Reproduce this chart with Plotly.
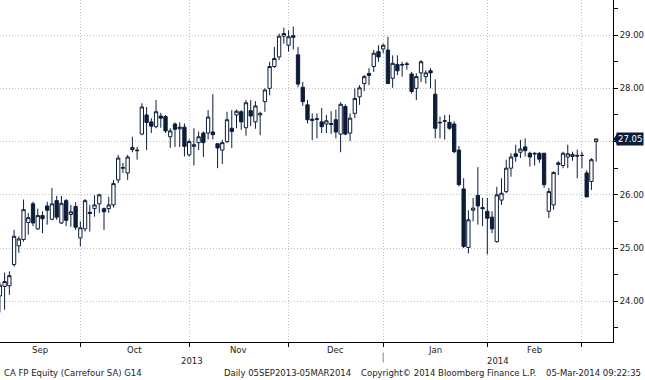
import pandas as pd
import plotly.graph_objects as go

# ---------------- data ----------------
holidays = ["2013-12-25", "2013-12-26", "2014-01-01"]
all_days = pd.bdate_range("2013-09-05", "2014-03-05")
dates = [d.strftime("%Y-%m-%d") for d in all_days if d.strftime("%Y-%m-%d") not in holidays]

opens = [24.10, 24.28, 24.29, 24.69, 25.04, 25.16, 25.48, 25.83, 25.36, 25.61,
         25.79, 25.54, 25.89, 25.47, 25.89, 25.63, 25.78, 25.19, 25.36, 25.67,
         25.74, 25.83, 25.74, 25.74, 25.81, 26.28, 26.50, 26.41, 26.85, 26.84,
         27.14, 27.50, 27.37, 27.28, 27.48, 27.47, 27.09, 27.33, 27.24, 27.27,
         26.75, 26.91, 26.98, 27.16, 27.16, 27.18, 26.96, 26.84, 27.00, 27.25,
         27.50, 27.56, 27.26, 27.58, 27.37, 27.50, 27.75, 28.00, 28.41, 28.59,
         28.98, 28.81, 28.99, 28.63, 28.02, 27.69, 27.42, 27.43, 27.37, 27.33,
         27.34, 27.41, 27.14, 27.66, 27.16, 27.53, 27.84, 28.09, 28.28, 28.41,
         28.69, 28.74, 28.72, 28.19, 28.45, 28.45, 28.46, 28.27, 28.00, 28.29,
         28.22, 28.33, 27.89, 27.35, 27.38, 27.36, 27.33, 26.84, 26.11, 25.01,
         25.71, 25.99, 25.76, 25.69, 25.58, 25.12, 25.90, 26.06, 26.50, 26.77,
         26.80, 26.90, 26.78, 26.78, 26.78, 26.78, 25.69, 25.81, 26.57, 26.55,
         26.71, 26.72, 26.74, 26.74, 26.41, 26.25, 27.00]
highs = [24.35, 24.54, 24.56, 25.34, 25.22, 25.91, 25.66, 25.87, 25.74, 25.69,
         25.87, 26.13, 25.98, 25.98, 25.92, 25.81, 25.86, 25.50, 25.92, 25.81,
         25.99, 26.02, 25.76, 25.96, 26.28, 26.75, 26.60, 26.75, 27.09, 26.90,
         27.72, 27.65, 27.44, 27.78, 27.54, 27.50, 27.25, 27.36, 27.36, 27.34,
         27.04, 27.25, 27.19, 27.19, 27.59, 27.89, 26.97, 27.03, 27.56, 27.59,
         27.60, 27.59, 27.78, 27.78, 27.76, 27.56, 28.00, 28.50, 28.78, 29.03,
         29.14, 29.09, 29.16, 28.78, 28.12, 27.78, 27.53, 27.53, 27.63, 27.50,
         27.57, 27.60, 27.74, 27.70, 27.53, 28.00, 28.06, 28.25, 28.38, 28.72,
         28.81, 28.84, 28.97, 28.62, 28.62, 28.50, 28.50, 28.31, 28.28, 28.53,
         28.34, 28.38, 28.17, 27.47, 27.50, 27.50, 27.38, 26.92, 26.31, 25.71,
         25.94, 26.52, 25.94, 25.94, 25.69, 26.15, 26.31, 26.66, 26.78, 26.94,
         27.03, 27.06, 26.81, 26.80, 26.80, 26.79, 26.13, 26.44, 26.63, 26.81,
         26.94, 26.81, 26.85, 26.81, 26.46, 26.69, 27.05]
lows = [23.79, 23.84, 24.12, 24.65, 24.91, 25.12, 25.25, 25.41, 25.34, 25.28,
        25.44, 25.52, 25.53, 25.45, 25.41, 25.40, 25.34, 25.03, 25.31, 25.31,
        25.59, 25.66, 25.34, 25.66, 25.76, 26.22, 26.41, 26.28, 26.80, 26.66,
        27.12, 26.84, 27.16, 27.25, 27.26, 27.16, 26.88, 26.90, 26.90, 26.72,
        26.72, 26.55, 26.84, 26.71, 27.04, 27.04, 26.50, 26.58, 26.97, 26.88,
        27.25, 27.22, 27.11, 27.29, 27.24, 27.12, 27.56, 27.87, 28.38, 28.53,
        28.84, 28.69, 28.73, 28.02, 27.67, 27.34, 27.03, 27.06, 27.16, 27.16,
        27.14, 27.06, 26.80, 27.12, 27.01, 27.44, 27.69, 27.95, 28.06, 28.31,
        28.50, 28.66, 28.08, 28.01, 28.25, 28.22, 28.35, 27.90, 27.78, 28.12,
        28.09, 28.00, 27.06, 27.06, 27.04, 27.22, 26.78, 26.16, 25.00, 24.90,
        25.50, 25.44, 25.41, 24.88, 25.28, 25.10, 25.81, 26.03, 26.34, 26.62,
        26.69, 26.72, 26.53, 26.55, 26.60, 26.13, 25.56, 25.72, 26.37, 26.50,
        26.50, 26.64, 26.31, 26.50, 25.96, 26.09, 26.62]
closes = [24.30, 24.37, 24.48, 25.22, 25.17, 25.72, 25.57, 25.47, 25.61, 25.55,
          25.71, 25.83, 25.58, 25.84, 25.52, 25.68, 25.39, 25.38, 25.89, 25.65,
          25.81, 26.00, 25.68, 25.81, 26.21, 26.69, 26.51, 26.71, 26.89, 26.83,
          27.65, 27.36, 27.29, 27.56, 27.44, 27.20, 27.20, 27.23, 27.27, 26.91,
          27.00, 26.94, 27.09, 26.98, 27.46, 27.13, 26.88, 26.98, 27.41, 27.19,
          27.57, 27.37, 27.73, 27.48, 27.67, 27.53, 27.97, 28.41, 28.56, 28.98,
          29.03, 28.97, 28.96, 28.08, 27.75, 27.41, 27.40, 27.42, 27.28, 27.39,
          27.32, 27.18, 27.70, 27.14, 27.44, 27.81, 28.01, 28.22, 28.24, 28.66,
          28.59, 28.81, 28.09, 28.47, 28.33, 28.44, 28.45, 27.94, 28.22, 28.50,
          28.29, 28.29, 27.25, 27.36, 27.39, 27.25, 26.81, 26.19, 25.03, 25.53,
          25.75, 25.79, 25.74, 25.56, 25.36, 26.00, 26.03, 26.50, 26.71, 26.72,
          26.86, 26.83, 26.71, 26.77, 26.67, 26.19, 26.06, 26.42, 26.60, 26.78,
          26.77, 26.76, 26.73, 26.74, 25.96, 26.66, 27.05]

y_ticks = [24, 25, 26, 27, 28, 29]
footer_left = "CA FP Equity (Carrefour SA) G14"
footer_mid = "Daily 05SEP2013-05MAR2014"
footer_copy = "Copyright\u00a9 2014 Bloomberg Finance L.P."
footer_right = "05-Mar-2014 09:22:35"

# ---------------- derived positions ----------------
N = len(dates)
x_range = [0.023, 129.56]
month_ends = [i for i in range(N - 1) if dates[i][:7] != dates[i + 1][:7]]
seg_starts = [0] + month_ends[:-1]
month_centers = [(a + b) / 2 for a, b in zip(seg_starts, month_ends)]
month_names = [pd.Timestamp(dates[b]).strftime("%b") for b in month_ends]
year_ends = [i for i in range(N - 1) if dates[i][:4] != dates[i + 1][:4]]
year_centers = [(0 + year_ends[0]) / 2, (year_ends[0] + x_range[1]) / 2]
year_names = [dates[0][:4], dates[-1][:4]]

last = closes[-1]
# tick label hidden where the last-price box covers it
y_ticktext = ["" if abs(v - last) < 0.15 else f"{v:.2f}" for v in y_ticks]

NAVY = "#0c1d3a"
FONT = "DejaVu Sans"
TXT = "#222222"
GRID = "#c0c0c0"

fig = go.Figure()
fig.add_trace(go.Candlestick(
    x=dates, open=opens, high=highs, low=lows, close=closes,
    increasing=dict(fillcolor="white", line=dict(color=NAVY, width=1)),
    decreasing=dict(fillcolor=NAVY, line=dict(color=NAVY, width=1)),
    whiskerwidth=0, showlegend=False, hoverinfo="skip",
))

annotations = []
for c, n in zip(month_centers, month_names):
    annotations.append(dict(x=c, y=0, xref="x", yref="paper", text=n, showarrow=False,
                            yanchor="middle", yshift=-8, font=dict(family=FONT, size=8.5, color=TXT)))
for c, n in zip(year_centers, year_names):
    annotations.append(dict(x=c, y=0, xref="x", yref="paper", text=n, showarrow=False,
                            yanchor="middle", yshift=-19, font=dict(family=FONT, size=8.5, color=TXT)))
for txt, xs, anc in [(footer_left, 2, "left"), (footer_mid, 222, "left"),
                     (footer_copy, 359, "left"), (footer_right, 643, "right")]:
    annotations.append(dict(x=0, y=0, xref="paper", yref="paper", text=txt, showarrow=False,
                            xanchor=anc, yanchor="middle", xshift=xs, yshift=-31,
                            font=dict(family=FONT, size=8.5, color=TXT)))
# last price label
annotations.append(dict(x=1, y=last, xref="paper", yref="y", text=f"{last:.2f}",
                        showarrow=False, xanchor="left", yanchor="middle", xshift=3,
                        bgcolor=NAVY, borderpad=1,
                        font=dict(family=FONT, size=8.5, color="white")))

px_w = 612.7
py = (29.66 - 23.234) / 342.5
shapes = [
    dict(type="line", xref="x", yref="paper", x0=year_ends[0], x1=year_ends[0],
         y0=-0.031, y1=-0.06, line=dict(color="#888888", width=1)),
    dict(type="path", xref="paper", yref="y",
         path=(f"M {1 + 0.5 / px_w} {last} L {1 + 4.5 / px_w} {last + 6 * py} "
               f"L {1 + 4.5 / px_w} {last - 6 * py} Z"),
         fillcolor=NAVY, line=dict(width=0)),
]

fig.update_layout(
    width=645, height=380,
    margin=dict(l=0, r=32.3, t=0, b=37.5),
    paper_bgcolor="white", plot_bgcolor="white",
    font=dict(family=FONT, size=8.5, color=TXT),
    annotations=annotations, shapes=shapes,
    boxgap=0.3, boxgroupgap=0,
    xaxis=dict(type="category", range=x_range, rangeslider=dict(visible=False),
               tickvals=[dates[i] for i in month_ends], showticklabels=False,
               ticks="outside", ticklen=4, tickcolor="black",
               showgrid=True, gridcolor=GRID, griddash="1px,2px", gridwidth=1,
               showline=True, linecolor="black", linewidth=1, zeroline=False),
    yaxis=dict(side="right", range=[23.234, 29.66], tickvals=y_ticks, ticktext=y_ticktext,
               ticks="outside", ticklen=4, tickcolor="black", automargin=False,
               minor=dict(dtick=0.5, tick0=0, ticks="outside", ticklen=4, tickcolor="black", showgrid=False),
               showgrid=True, gridcolor=GRID, griddash="1px,2px", gridwidth=1,
               showline=True, linecolor="black", linewidth=1, zeroline=False,
               tickfont=dict(family=FONT, size=8.5, color=TXT)),
)

fig.write_html("out.html", config={"displayModeBar": False},
               post_script="document.body.style.margin='0';document.body.style.overflow='hidden';")
